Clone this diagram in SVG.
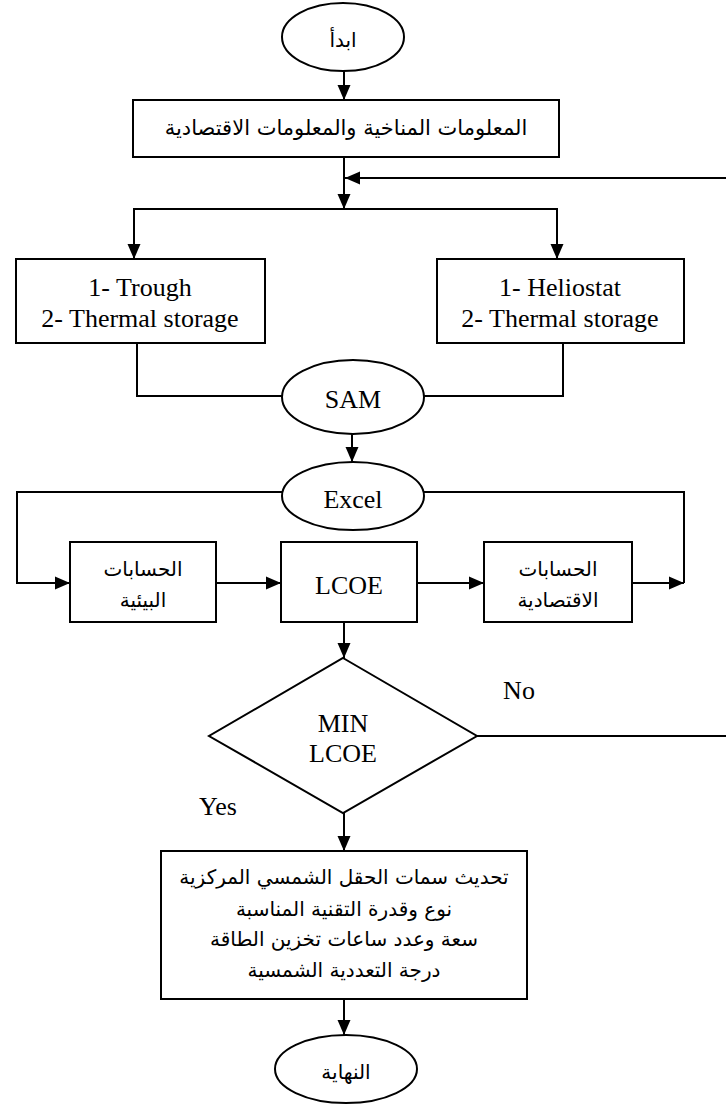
<svg xmlns="http://www.w3.org/2000/svg" width="726" height="1104" viewBox="0 0 726 1104">
<style>
.s{fill:#fff;stroke:#000;stroke-width:2}
.c{fill:none;stroke:#000;stroke-width:2}
.en{font-family:"Liberation Serif","Times New Roman",serif;font-size:26px;fill:#000;text-anchor:middle;dominant-baseline:central}
.ar{font-family:"DejaVu Sans",sans-serif;font-size:20px;fill:#000;text-anchor:middle;dominant-baseline:central;direction:rtl;unicode-bidi:plaintext}
</style>
<defs>
<marker id="ah" markerUnits="userSpaceOnUse" markerWidth="15" markerHeight="14" refX="15" refY="7" orient="auto">
<path d="M0,0.5 L15,7 L0,13.5 z" fill="#000"/>
</marker>
</defs>
<rect width="726" height="1104" fill="#fff"/>
<g id="connectors">
<path class="c" d="M344,71 V100" marker-end="url(#ah)"/>
<path class="c" d="M344,157 V209" marker-end="url(#ah)"/>
<path class="c" d="M730,178 H345" marker-end="url(#ah)"/>
<path class="c" d="M344,209 H134 V259" marker-end="url(#ah)"/>
<path class="c" d="M344,209 H557 V259" marker-end="url(#ah)"/>
<path class="c" d="M137,343 V396 H282"/>
<path class="c" d="M563,343 V396 H424"/>
<path class="c" d="M352,434 V462" marker-end="url(#ah)"/>
<path class="c" d="M282,492 H17 V583 H70" marker-end="url(#ah)"/>
<path class="c" d="M424,492 H684 V583"/>
<path class="c" d="M216,583 H281" marker-end="url(#ah)"/>
<path class="c" d="M417,583 H484" marker-end="url(#ah)"/>
<path class="c" d="M632,583 H684" marker-end="url(#ah)"/>
<path class="c" d="M344,622 V658" marker-end="url(#ah)"/>
<path class="c" d="M477,736 H730"/>
<path class="c" d="M344,813 V851" marker-end="url(#ah)"/>
<path class="c" d="M344,999 V1035" marker-end="url(#ah)"/>
</g>
<g id="start">
<ellipse class="s" cx="343" cy="37" rx="61" ry="34"/>
<text class="ar" x="343" y="40">ابدأ</text>
</g>
<g id="input">
<rect class="s" x="133" y="100" width="426" height="57"/>
<text class="ar" x="346" y="128" style="font-size:21px">المعلومات المناخية والمعلومات الاقتصادية</text>
</g>
<g id="trough">
<rect class="s" x="16" y="259" width="249" height="84"/>
<text class="en" x="140" y="287">1- Trough</text>
<text class="en" x="140" y="318">2- Thermal storage</text>
</g>
<g id="heliostat">
<rect class="s" x="437" y="259" width="247" height="84"/>
<text class="en" x="560" y="287">1- Heliostat</text>
<text class="en" x="560" y="318">2- Thermal storage</text>
</g>
<g id="sam">
<ellipse class="s" cx="353" cy="397" rx="71" ry="37"/>
<text class="en" x="353" y="399">SAM</text>
</g>
<g id="excel">
<ellipse class="s" cx="353" cy="496" rx="71" ry="34"/>
<text class="en" x="353" y="499">Excel</text>
</g>
<g id="env">
<rect class="s" x="70" y="542" width="146" height="80"/>
<text class="ar" x="143" y="569">الحسابات</text>
<text class="ar" x="143" y="600">البيئية</text>
</g>
<g id="lcoe">
<rect class="s" x="281" y="542" width="136" height="80"/>
<text class="en" x="349" y="585">LCOE</text>
</g>
<g id="econ">
<rect class="s" x="484" y="542" width="148" height="80"/>
<text class="ar" x="558" y="569">الحسابات</text>
<text class="ar" x="558" y="600">الاقتصادية</text>
</g>
<g id="decision">
<path class="s" d="M343,658 L477,736 L343,813 L209,736 Z"/>
<text class="en" x="343" y="723">MIN</text>
<text class="en" x="343" y="753">LCOE</text>
<text class="en" x="519" y="690">No</text>
<text class="en" x="218" y="806">Yes</text>
</g>
<g id="result">
<rect class="s" x="161" y="851" width="366" height="148"/>
<text class="ar" x="344" y="877">تحديث سمات الحقل الشمسي المركزية</text>
<text class="ar" x="344" y="909">نوع وقدرة التقنية المناسبة</text>
<text class="ar" x="344" y="939">سعة وعدد ساعات تخزين الطاقة</text>
<text class="ar" x="344" y="970">درجة التعددية الشمسية</text>
</g>
<g id="end">
<ellipse class="s" cx="346" cy="1069" rx="71" ry="34"/>
<text class="ar" x="346" y="1072">النهاية</text>
</g>
</svg>
